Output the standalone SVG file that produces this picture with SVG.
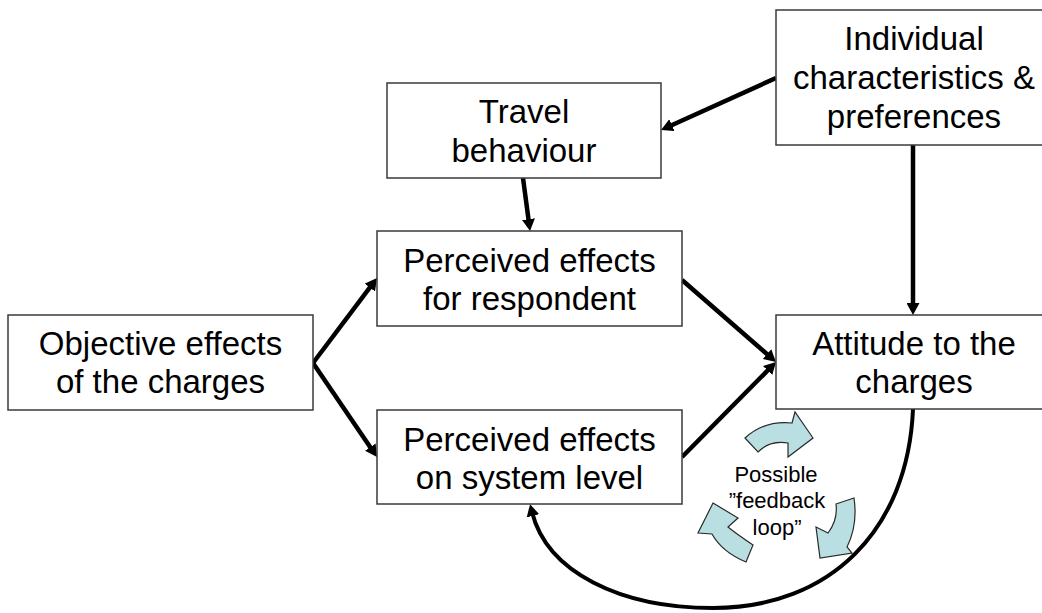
<svg xmlns="http://www.w3.org/2000/svg" width="1042" height="613" viewBox="0 0 1042 613">
<style>
.box{fill:#fff;stroke:#3a3a3a;stroke-width:1.5}
.t{font-family:"Liberation Sans",Arial,sans-serif;font-size:33px;fill:#000;text-anchor:middle}
.s{font-family:"Liberation Sans",Arial,sans-serif;font-size:22px;fill:#000;text-anchor:middle}
.c{fill:none;stroke:#000;stroke-width:4.5;marker-end:url(#ah)}
.fb{fill:#b9dfe3;stroke:#2a2a2a;stroke-width:1.2;stroke-linejoin:miter}
</style>
<defs>
<marker id="ah" markerUnits="userSpaceOnUse" markerWidth="13" markerHeight="13" refX="4" refY="6.5" orient="auto">
<path d="M0,0 L12,6.5 L0,13 z" fill="#000"/>
</marker>
</defs>
<rect width="1042" height="613" fill="#fff"/>
<g id="connectors">
<line class="c" x1="313" y1="363" x2="372.2" y2="284.4"/>
<line class="c" x1="313" y1="363" x2="372.5" y2="450.4"/>
<line class="c" x1="682" y1="280" x2="770" y2="356.7"/>
<line class="c" x1="682" y1="457" x2="770.4" y2="367.7"/>
<line class="c" x1="523" y1="178" x2="529" y2="223.1"/>
<line class="c" x1="776" y1="78" x2="668.3" y2="126.7"/>
<line class="c" x1="913" y1="145" x2="913" y2="307"/>
<path class="c" style="stroke-width:4" d="M913,409 C908,530 830,608 713,608 C620,608 547,572 532,512"/>
</g>
<g id="n-objective">
<rect class="box" x="8" y="315" width="305" height="95"/>
<text class="t" x="160.5" y="355">Objective effects</text>
<text class="t" x="160.5" y="393">of the charges</text>
</g>
<g id="n-travel">
<rect class="box" x="387" y="83" width="274" height="95"/>
<text class="t" x="524" y="123">Travel</text>
<text class="t" x="524" y="162">behaviour</text>
</g>
<g id="n-individual">
<rect class="box" x="776" y="10" width="276" height="135"/>
<text class="t" x="914" y="50">Individual</text>
<text class="t" x="914" y="89">characteristics &amp;</text>
<text class="t" x="914" y="128">preferences</text>
</g>
<g id="n-respondent">
<rect class="box" x="377" y="231" width="305" height="95"/>
<text class="t" x="529.5" y="272">Perceived effects</text>
<text class="t" x="529.5" y="310">for respondent</text>
</g>
<g id="n-system">
<rect class="box" x="377" y="410" width="305" height="94"/>
<text class="t" x="529.5" y="451">Perceived effects</text>
<text class="t" x="529.5" y="489">on system level</text>
</g>
<g id="n-attitude">
<rect class="box" x="776" y="315" width="276" height="94"/>
<text class="t" x="914" y="355">Attitude to the</text>
<text class="t" x="914" y="393">charges</text>
</g>
<g id="n-feedback">
<path class="fb" d="M745,438 L758,452 Q770,440 788,443 L788,457 L813,438 L795,412 L792,423 Q765,420 745,438 z"/>
<path class="fb" d="M836,504 L854,498 Q858,525 847,547 L852,553 L820,558 L816,527 L828,533 Q838,520 836,504 z"/>
<path class="fb" d="M713,503 L738,518 L728,527 Q738,535 753,545 L746,562 Q722,552 712,534 L698,533 z"/>
<text class="s" x="776" y="482">Possible</text>
<text class="s" x="777" y="508">”feedback</text>
<text class="s" x="777" y="535">loop”</text>
</g>
</svg>
